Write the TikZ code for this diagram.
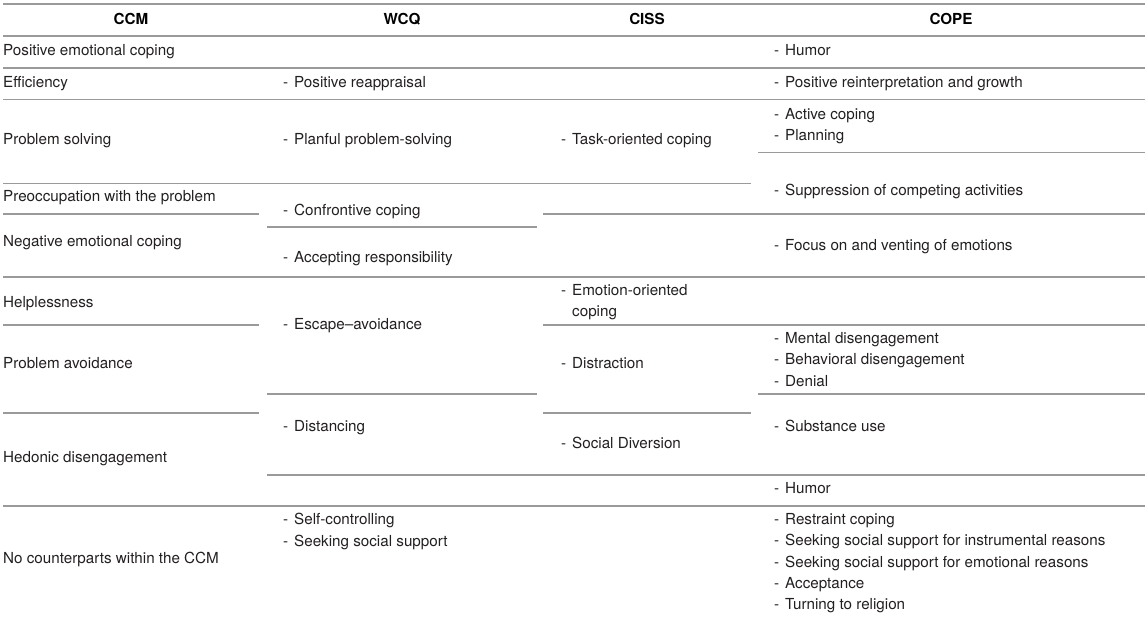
\documentclass[tikz,border=0pt]{standalone}
\usepackage{fontspec}
\setmainfont{TeX Gyre Heros}
\definecolor{rulegray}{HTML}{9A9A9A}
\definecolor{txtcol}{HTML}{231F20}
\newcommand\itm[1]{\makebox[11pt][l]{-}#1}
\begin{document}
\begin{tikzpicture}[x=1pt,y=-1pt,
  rule/.style={draw=rulegray,line width=1.3pt},
  hd/.style={anchor=base,inner sep=0,yshift=-1pt,font=\fontsize{15.2}{18}\selectfont\bfseries,text=black},
  tx/.style={anchor=base west,inner sep=0,yshift=-1.2pt,font=\fontsize{15.2}{18}\selectfont,text=txtcol}]
\useasboundingbox (0,0) rectangle (1145,616);
% rules
\draw[rule] (3,4) -- (1145,4);
\draw[rule] (3,36) -- (1145,36);
\draw[rule] (3,68) -- (1145,68);
\draw[rule] (3,99.5) -- (1145,99.5);
\draw[rule] (3,183.3) -- (751,183.3);
\draw[rule] (758,152.5) -- (1145,152.5);
\draw[rule] (3,214) -- (259,214);
\draw[rule] (543,214) -- (1145,214);
\draw[rule] (267,227) -- (537,227);
\draw[rule] (3,277) -- (1145,277);
\draw[rule] (3,325) -- (259,325);
\draw[rule] (543,325) -- (1145,325);
\draw[rule] (267,394) -- (537,394);
\draw[rule] (758,394) -- (1145,394);
\draw[rule] (3,413) -- (259,413);
\draw[rule] (543,413) -- (751,413);
\draw[rule] (267,475) -- (1145,475);
\draw[rule] (3,506) -- (1145,506);
% header
\node[hd] (h1) at (131,23.3) {CCM};
\node[hd] (h2) at (402,23.3) {WCQ};
\node[hd] (h3) at (647,23.3) {CISS};
\node[hd] (h4) at (951,23.3) {COPE};
% CCM
\node[tx] (c1) at (3,54.5) {Positive emotional coping};
\node[tx] (c2) at (3,86) {Efficiency};
\node[tx] (c3) at (3,143.5) {Problem solving};
\node[tx] (c4) at (3,200.5) {Preoccupation with the problem};
\node[tx] (c5) at (3,245.5) {Negative emotional coping};
\node[tx] (c6) at (3,306.5) {Helplessness};
\node[tx] (c7) at (3,367.5) {Problem avoidance};
\node[tx] (c8) at (3,461.5) {Hedonic disengagement};
\node[tx] (c9) at (3,562.5) {No counterparts within the CCM};
% WCQ
\node[tx] (w1) at (283,86) {\itm{Positive reappraisal}};
\node[tx] (w2) at (283,143.5) {\itm{Planful problem-solving}};
\node[tx] (w3) at (283,214) {\itm{Confrontive coping}};
\node[tx] (w4) at (283,261.5) {\itm{Accepting responsibility}};
\node[tx] (w5) at (283,328.5) {\itm{Escape–avoidance}};
\node[tx] (w6) at (283,430.5) {\itm{Distancing}};
\node[tx] (w7) at (283,523.5) {\itm{Self-controlling}};
\node[tx] (w8) at (283,545) {\itm{Seeking social support}};
% CISS
\node[tx] (s1) at (561,143.5) {\itm{Task-oriented coping}};
\node[tx] (s2) at (561,294.5) {\itm{Emotion-oriented}};
\node[tx] (s3) at (572,315.5) {coping};
\node[tx] (s4) at (561,367.5) {\itm{Distraction}};
\node[tx] (s5) at (561,447.5) {\itm{Social Diversion}};
% COPE
\node[tx] (p1) at (774,54.5) {\itm{Humor}};
\node[tx] (p2) at (774,86) {\itm{Positive reinterpretation and growth}};
\node[tx] (p3) at (774,118.5) {\itm{Active coping}};
\node[tx] (p4) at (774,139.5) {\itm{Planning}};
\node[tx] (p5) at (774,194.5) {\itm{Suppression of competing activities}};
\node[tx] (p6) at (774,249.5) {\itm{Focus on and venting of emotions}};
\node[tx] (p7) at (774,342.5) {\itm{Mental disengagement}};
\node[tx] (p8) at (774,363.7) {\itm{Behavioral disengagement}};
\node[tx] (p9) at (774,384.9) {\itm{Denial}};
\node[tx] (p10) at (774,430.5) {\itm{Substance use}};
\node[tx] (p11) at (774,492.5) {\itm{Humor}};
\node[tx] (p12) at (774,523.5) {\itm{Restraint coping}};
\node[tx] (p13) at (774,544.7) {\itm{Seeking social support for instrumental reasons}};
\node[tx] (p14) at (774,565.9) {\itm{Seeking social support for emotional reasons}};
\node[tx] (p15) at (774,587.1) {\itm{Acceptance}};
\node[tx] (p16) at (774,608.3) {\itm{Turning to religion}};
\end{tikzpicture}
\end{document}
